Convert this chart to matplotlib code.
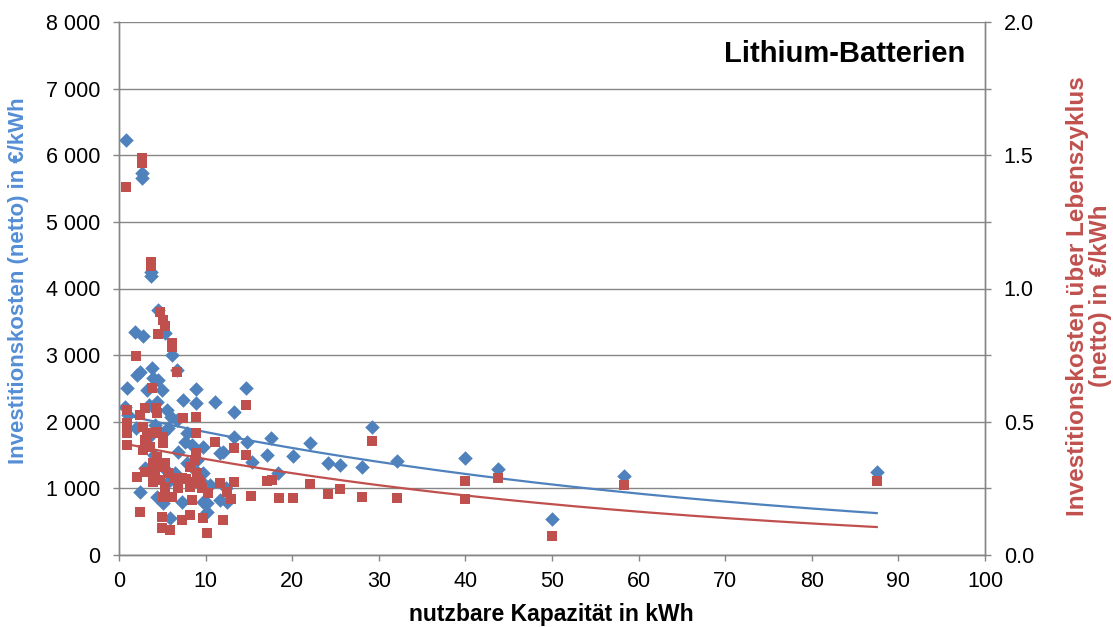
import numpy as np
import matplotlib
matplotlib.use("Agg")
import matplotlib.pyplot as plt
from matplotlib.ticker import FixedLocator, FuncFormatter

# ---- data ----
blue_x = [0.8, 2.6, 2.6, 3.7, 3.7, 4.5, 1.9, 2.8, 5.3, 6.1, 6.7, 2.4, 2.1, 3.8, 3.9, 4.5,
          0.9, 3.2, 5.0, 8.9, 7.4, 8.9, 11.1, 13.3, 0.7, 4.4, 5.5, 6.0, 7.9, 13.3, 9.7, 11.7,
          12.0, 2.4, 5.0, 7.3, 9.7, 10.2, 5.9, 11.7, 12.5, 14.7, 29.2, 17.6, 14.8, 22.1, 17.1,
          20.1, 15.4, 24.1, 25.5, 28.1, 32.1, 40.0, 43.8, 18.4, 58.3, 50.0, 87.5, 6.7, 5.7,
          5.1, 7.6, 6.8, 7.9, 5.9, 6.5, 9.0, 9.7, 4.4, 5.1, 9.6, 10.2, 5.7, 3.5, 4.2, 3.0,
          4.8, 8.4, 10.5, 4.0, 2.0, 3.3, 1.0, 8.6, 12.3]
blue_y = [6230, 5740, 5660, 4250, 4190, 3680, 3350, 3280, 3330, 3000, 2780, 2750, 2700, 2810,
          2660, 2630, 2510, 2480, 2480, 2490, 2330, 2280, 2300, 2150, 2220, 2300, 2180, 2070,
          1830, 1770, 1620, 1530, 1550, 950, 830, 800, 800, 650, 560, 830, 800, 2510, 1920,
          1760, 1700, 1680, 1500, 1490, 1400, 1380, 1350, 1320, 1410, 1460, 1290, 1230, 1190,
          540, 1250, 2030, 1910, 1830, 1700, 1550, 1380, 1130, 1230, 1430, 1230, 870, 780,
          1100, 780, 1250, 2250, 1950, 1300, 1350, 1650, 1050, 1500, 1900, 1750, 2100, 1300,
          1000]

red_x = [2.6, 2.6, 0.8, 3.7, 3.7, 4.7, 5.1, 5.3, 4.5, 6.1, 6.1, 2.0, 6.7, 3.8, 0.9, 3.0,
         4.3, 7.4, 8.9, 0.9, 2.4, 8.9, 0.9, 0.9, 11.1, 13.3, 8.9, 2.1, 3.9, 6.5, 7.7, 9.2,
         11.7, 13.3, 12.5, 12.9, 2.4, 5.0, 7.3, 8.2, 9.7, 12.0, 5.0, 5.9, 10.2, 14.7, 29.2,
         14.7, 40.0, 43.8, 40.0, 17.1, 17.7, 22.1, 25.5, 24.1, 28.1, 32.1, 15.2, 18.5, 20.1,
         58.3, 50.0, 87.5, 3.0, 3.6, 3.9, 2.8, 4.4, 3.9, 4.7, 5.3, 5.7, 4.2, 3.0, 4.7, 5.3,
         8.2, 8.8, 9.0, 9.4, 7.3, 8.2, 6.8, 8.2, 9.6, 5.1, 6.1, 10.3, 8.4, 5.1, 2.8, 4.4,
         5.1, 3.2, 4.4]
red_y = [1.49, 1.47, 1.38, 1.10, 1.085, 0.91, 0.88, 0.86, 0.83, 0.795, 0.78, 0.745, 0.685,
         0.627, 0.544, 0.552, 0.552, 0.514, 0.518, 0.495, 0.525, 0.458, 0.458, 0.413, 0.424,
         0.40, 0.383, 0.293, 0.274, 0.29, 0.285, 0.28, 0.27, 0.274, 0.236, 0.21, 0.161,
         0.143, 0.131, 0.150, 0.139, 0.131, 0.101, 0.094, 0.083, 0.563, 0.428, 0.375, 0.278,
         0.289, 0.21, 0.278, 0.281, 0.266, 0.248, 0.229, 0.218, 0.214, 0.221, 0.214, 0.214,
         0.263, 0.071, 0.278, 0.432, 0.405, 0.458, 0.394, 0.368, 0.345, 0.33, 0.345, 0.308,
         0.308, 0.311, 0.281, 0.255, 0.33, 0.356, 0.308, 0.27, 0.289, 0.274, 0.251, 0.255,
         0.251, 0.218, 0.218, 0.233, 0.206, 0.42, 0.48, 0.462, 0.443, 0.443, 0.533]

# exponential trendline parameters y = a * exp(b * x)
trend_blue = (2121.0, -0.0139)
trend_red = (0.422, -0.0159)

x_ticks = list(range(0, 101, 10))
left_ticks = list(range(0, 8001, 1000))
right_ticks = [0.0, 0.25, 0.5, 0.75, 1.0, 1.25, 1.5, 1.75, 2.0]

title = "Lithium-Batterien"
xlabel = "nutzbare Kapazität in kWh"
ylabel_left = "Investitionskosten (netto) in €/kWh"
ylabel_right = "Investitionskosten über Lebenszyklus\n(netto) in €/kWh"

# ---- styling ----
BLUE = "#4F81BD"
RED = "#C0504D"
GRID = "#868686"
plt.rcParams["font.family"] = ["Liberation Sans", "DejaVu Sans"]
NARROW = ["Liberation Sans Narrow", "Liberation Sans", "DejaVu Sans"]

fig = plt.figure(figsize=(11.13, 6.27), dpi=100)
ax = fig.add_axes([119 / 1113, 1 - 555 / 627, (985 - 119) / 1113, (555 - 22) / 627])
ax2 = ax.twinx()

ax.set_xlim(0, 100)
ax.set_ylim(0, 8000)
ax2.set_ylim(0, 2.0)

ax.set_xticks(x_ticks)
ax.set_yticks(left_ticks)
ax.yaxis.set_major_formatter(FuncFormatter(lambda v, p: f"{int(round(v)):,}".replace(",", " ")))
ax2.yaxis.set_major_locator(FixedLocator(right_ticks))
ax2.yaxis.set_major_formatter(FuncFormatter(
    lambda v, p: f"{v:.1f}" if abs(v * 2 - round(v * 2)) < 1e-6 else ""))

ax.grid(axis="y", color=GRID, linewidth=1.0)
ax.set_axisbelow(True)

for a in (ax, ax2):
    for s in a.spines.values():
        s.set_color(GRID)
        s.set_linewidth(1.0)
    a.spines["top"].set_visible(False)
    a.tick_params(colors=GRID, labelcolor="black", labelsize=15.5, length=4.5, width=1.0,
                  direction="out")
ax.tick_params(axis="x", pad=7)
ax.tick_params(axis="y", pad=9)
ax2.tick_params(axis="y", pad=9)

# scatter
ax.scatter(blue_x, blue_y, marker="D", s=55, color=BLUE, linewidths=0, zorder=3)
ax2.scatter(red_x, red_y, marker="s", s=55, color=RED, linewidths=0, zorder=3)

# trendlines
xb = np.linspace(min(blue_x), max(blue_x), 200)
ax.plot(xb, trend_blue[0] * np.exp(trend_blue[1] * xb), color=BLUE, linewidth=1.6, zorder=4)
xr = np.linspace(min(red_x), max(red_x), 200)
ax2.plot(xr, trend_red[0] * np.exp(trend_red[1] * xr), color=RED, linewidth=1.6, zorder=4)

ax.text((965 - 119) / 866, (555 - 54) / 533, title, transform=ax.transAxes, ha="right",
        va="center", fontsize=21, fontweight="bold", color="black")

fig.text(551 / 1113, 1 - 614 / 627, xlabel, ha="center", va="center", fontsize=16.5,
         fontweight="bold", family=NARROW)
fig.text(19 / 1113, 1 - 281 / 627, ylabel_left, ha="center", va="center", rotation=90,
         fontsize=16, fontweight="bold", color="#558ED5", family=NARROW)
fig.text(1089 / 1113, 1 - 296 / 627, ylabel_right, ha="center", va="center", rotation=90,
         fontsize=17.5, fontweight="bold", color=RED, family=NARROW, linespacing=1.05)

fig.savefig("out.png", dpi=100)
